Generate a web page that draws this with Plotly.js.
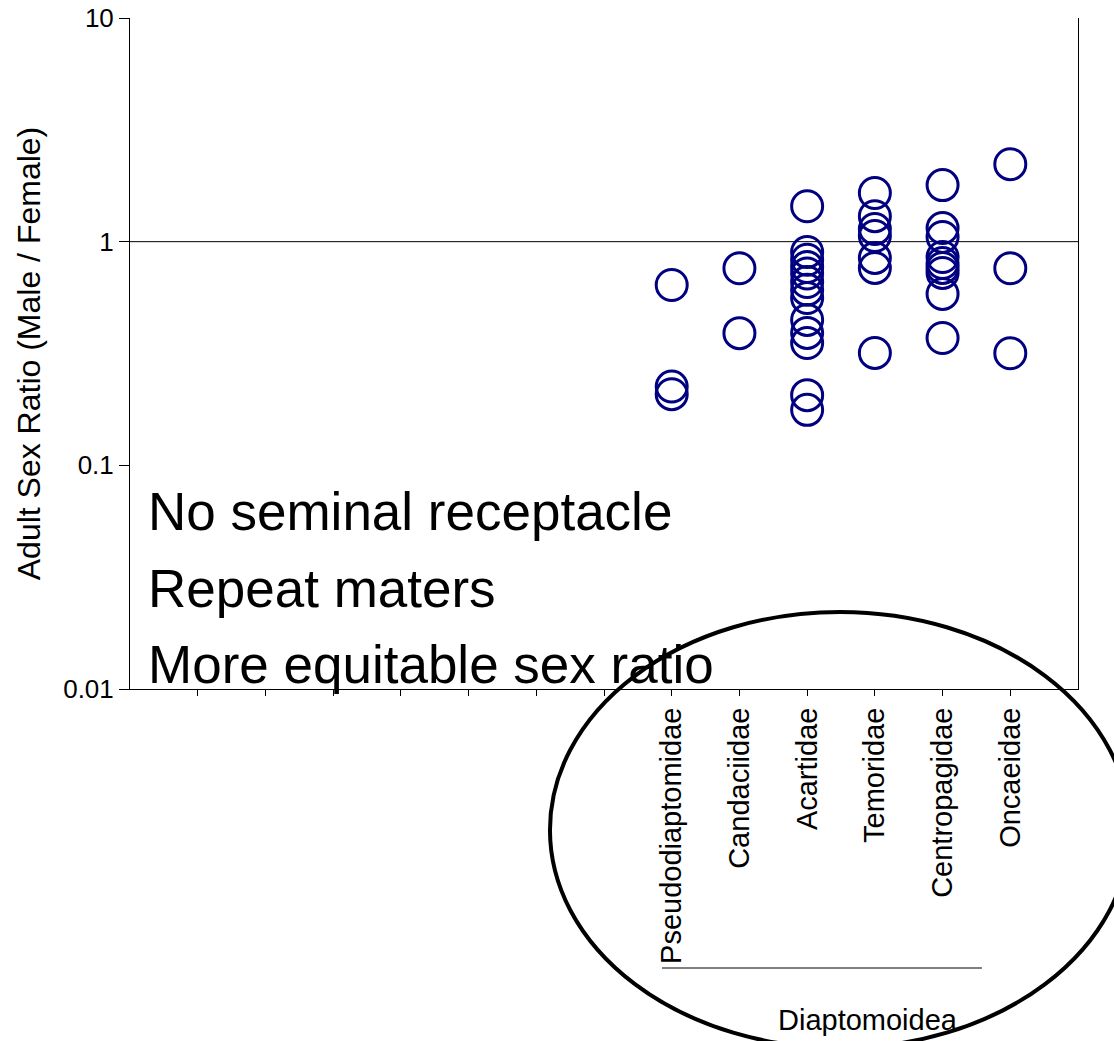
<!DOCTYPE html>
<html>
<head>
<meta charset="utf-8">
<script src="https://cdn.plot.ly/plotly-3.0.1.min.js"></script>
<style>
  html, body { margin: 0; padding: 0; background: #ffffff; }
  #chart { width: 1114px; height: 1041px; }
</style>
</head>
<body>
<div id="chart"></div>
<script>
// Families (labelled categories), preceded by unlabelled empty slots on the axis
const emptySlots = 7;
const families = ['Pseudodiaptomidae', 'Candaciidae', 'Acartidae', 'Temoridae', 'Centropagidae', 'Oncaeidae'];

// Adult sex ratio (male / female) values for each family
const pseudodiaptomidae = [0.64, 0.225, 0.208];
const candaciidae = [0.76, 0.39];
const acartidae = [1.44, 0.90, 0.83, 0.77, 0.72, 0.66, 0.61, 0.56, 0.447, 0.391, 0.352, 0.206, 0.177];
const temoridae = [1.65, 1.30, 1.14, 1.06, 0.846, 0.763, 0.318];
const centropagidae = [1.79, 1.15, 1.05, 0.854, 0.803, 0.763, 0.725, 0.584, 0.371];
const oncaeidae = [2.22, 0.76, 0.317];

const seriesByFamily = [pseudodiaptomidae, candaciidae, acartidae, temoridae, centropagidae, oncaeidae];

// Tick labels
const yTickVals = [0.01, 0.1, 1, 10];
const yTickText = ['0.01', '0.1', '1', '10'];

const texts = ['No seminal receptacle', 'Repeat maters', 'More equitable sex ratio'];
const groupLabel = 'Diaptomoidea';

const xs = [], ys = [];
seriesByFamily.forEach((vals, i) => {
  vals.forEach(v => { xs.push(emptySlots + i + 1); ys.push(v); });
});

const tickVals = [], tickText = [];
for (let k = 1; k <= emptySlots + families.length; k++) {
  tickVals.push(k);
  tickText.push(k > emptySlots ? families[k - emptySlots - 1] : '');
}

const FONT = 'Arial, "Liberation Sans", Helvetica, sans-serif';
const navy = '#000080';

const trace = {
  type: 'scatter',
  mode: 'markers',
  x: xs,
  y: ys,
  marker: {
    symbol: 'circle-open',
    size: 31,
    color: navy,
    line: { color: navy, width: 3 }
  },
  hoverinfo: 'x+y',
  showlegend: false,
  cliponaxis: false
};

const layout = {
  width: 1114,
  height: 1041,
  margin: { l: 130, r: 36, t: 18, b: 352 },
  paper_bgcolor: '#ffffff',
  plot_bgcolor: '#ffffff',
  font: { family: FONT, color: '#000000', size: 20 },
  showlegend: false,
  xaxis: {
    range: [0, 14],
    tickmode: 'array',
    tickvals: tickVals,
    ticktext: tickText,
    tickangle: -90,
    ticks: 'outside',
    ticklen: 6,
    tickwidth: 1,
    tickcolor: '#000000',
    showline: true,
    linecolor: '#000000',
    linewidth: 1,
    mirror: false,
    showgrid: false,
    zeroline: false,
    tickfont: { family: FONT, size: 29, color: '#000000' }
  },
  yaxis: {
    type: 'log',
    range: [-2, 1],
    tickmode: 'array',
    tickvals: yTickVals,
    ticktext: yTickText,
    ticks: 'outside',
    ticklen: 10,
    tickwidth: 1,
    tickcolor: '#000000',
    showline: true,
    linecolor: '#000000',
    linewidth: 1,
    mirror: true,
    showgrid: false,
    zeroline: false,
    tickfont: { family: FONT, size: 26, color: '#000000' },
    title: { text: 'Adult Sex Ratio (Male / Female)', font: { family: FONT, size: 32, color: '#000000' }, standoff: 12 }
  },
  shapes: [
    { type: 'line', xref: 'paper', yref: 'y', x0: 0, x1: 1, y0: 1, y1: 1,
      line: { color: '#000000', width: 1 }, layer: 'below' },
    { type: 'line', xref: 'paper', yref: 'paper', x0: 0.5612, x1: 0.8987, y0: -0.4158, y1: -0.4158,
      line: { color: '#000000', width: 1 } },
    { type: 'circle', xref: 'paper', yref: 'paper', x0: 0.4430, x1: 1.0549, y0: -0.535, y1: 0.1148,
      line: { color: '#000000', width: 4 }, fillcolor: 'rgba(0,0,0,0)', layer: 'above' }
  ],
  annotations: [
    { text: texts[0], xref: 'paper', yref: 'paper', x: 0.017, y: 0.2638, xanchor: 'left', yanchor: 'middle',
      showarrow: false, font: { family: FONT, size: 53, color: '#000000' } },
    { text: texts[1], xref: 'paper', yref: 'paper', x: 0.017, y: 0.1505, xanchor: 'left', yanchor: 'middle',
      showarrow: false, font: { family: FONT, size: 53, color: '#000000' } },
    { text: texts[2], xref: 'paper', yref: 'paper', x: 0.017, y: 0.0358, xanchor: 'left', yanchor: 'middle',
      showarrow: false, font: { family: FONT, size: 53, color: '#000000' } },
    { text: groupLabel, xref: 'paper', yref: 'paper', x: 0.7785, y: -0.4933, xanchor: 'center', yanchor: 'middle',
      showarrow: false, font: { family: FONT, size: 29, color: '#000000' } }
  ]
};

Plotly.newPlot('chart', [trace], layout, { displayModeBar: false, staticPlot: true });
</script>
</body>
</html>
